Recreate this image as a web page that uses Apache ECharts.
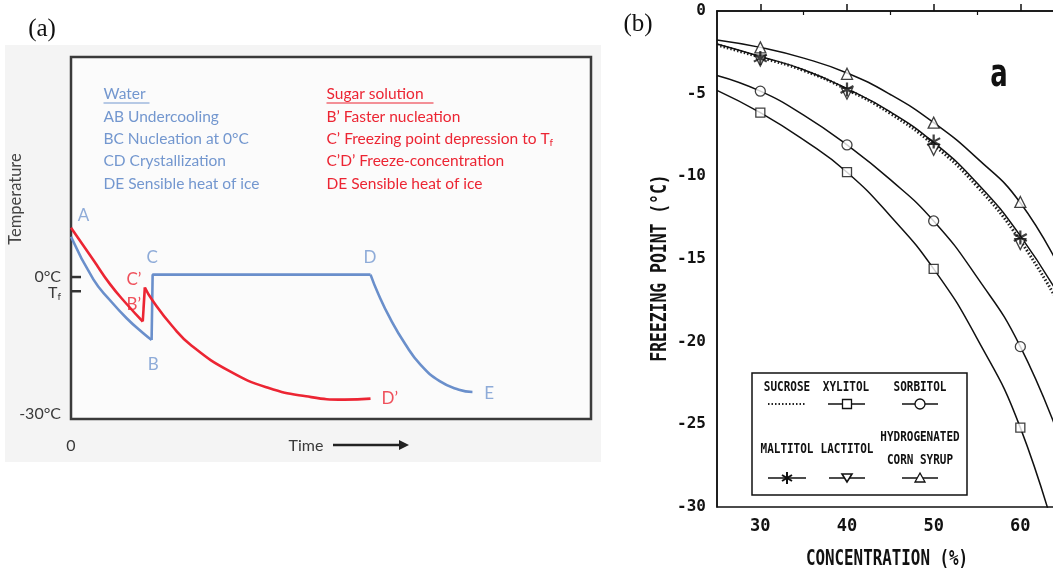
<!DOCTYPE html>
<html>
<head>
<meta charset="utf-8">
<script src="https://cdn.jsdelivr.net/npm/echarts@6/dist/echarts.min.js"></script>
<style>
html, body { margin: 0; padding: 0; background: #fff; }
#chart { width: 1053px; height: 573px; }
</style>
</head>
<body>
<div id="chart"></div>
<script>
// ---------- panel (a): cooling curves (time in arbitrary units, temperature in degC)
var waterCooling = [[0, 8.5], [4.3, -0.5], [7.5, -4.9], [10.7, -8.7], [13.9, -11.9], [15.5, -13.3]];
var waterPlateau = [[15.5, -13.3], [15.7, 0.5], [57.6, 0.5]];
var waterIce = [[57.6, 0.5], [59.1, -3.6], [61.3, -8.6], [64.3, -14.2], [67.2, -18.5], [70.9, -22.0], [74.6, -23.8], [77.2, -24.3]];
var sugarCooling = [[0, 10.4], [4.3, 3.6], [7.5, -1.5], [10.7, -5.7], [13.8, -9.4]];
var sugarNucleation = [[13.8, -9.4], [14.2, -2.2]];
var sugarFreeze = [[14.2, -2.2], [15.65, -4.9], [19.5, -10.4], [23.2, -14.5], [30.5, -19.9], [37.9, -23.4], [45.2, -25.2], [52.6, -25.9], [57.6, -25.7]];

var waterMarks = [['A', 2.4, 13.0], ['B', 15.8, -18.5], ['C', 15.6, 4.2], ['D', 57.5, 4.2], ['E', 80.4, -24.7]];
var sugarMarks = [['C\u2019', 12.1, -0.6], ['B\u2019', 12.1, -5.9], ['D\u2019', 61.3, -25.6]];

var tempTicks = [0, -3];
var tempLabelValues = [0, -3, -30];
var tempLabels = ['0°C', 'T{s|f}', '-30°C'];
var timeLabelValues = [0];

var waterNotes = ['Water', 'AB Undercooling', 'BC Nucleation at 0°C', 'CD Crystallization', 'DE Sensible heat of ice'];
var sugarNotes = ['Sugar solution', 'B\u2019 Faster nucleation', 'C\u2019 Freezing point depression to T{s|f}', 'C\u2019D\u2019 Freeze-concentration', 'DE Sensible heat of ice'];

// ---------- panel (b): freezing point vs concentration
var concTicks = [30, 40, 50, 60];
var concMinorTicks = [35, 45, 55];
var measuredConc = [30, 40, 50, 60];
var xylitolPts = [-6.15, -9.75, -15.6, -25.2];
var sorbitolPts = [-4.85, -8.1, -12.7, -20.3];
var maltitolPts = [-2.85, -4.75, -7.9, -13.7];
var lactitolPts = [-3.0, -5.0, -8.4, -14.1];
var hcsPts = [-2.2, -3.8, -6.75, -11.55];

var fitConc = [25, 30, 35, 40, 45, 50, 55, 60, 65];
var sucroseFit = [-2.05, -2.8, -3.6, -4.75, -6.2, -8.1, -10.6, -13.9, -18.2];
var maltitolFit = [-2.0, -2.75, -3.55, -4.7, -6.1, -7.95, -10.4, -13.6, -17.7];
var hcsFit = [-1.75, -2.2, -2.85, -3.75, -5.05, -6.75, -8.9, -11.6, -16.0];
var sorbitolFit = [-3.9, -4.85, -6.3, -8.1, -10.2, -12.7, -16.1, -20.3, -26.5];
var xylitolFit = [-4.8, -6.15, -7.8, -9.75, -12.4, -15.6, -19.8, -25.2, -33.5];

var BLUE = '#6a8fcb';
var RED = '#ec2533';
var FONT_A = 'Lato, "Open Sans", sans-serif';
var FONT_B = '"DejaVu Sans Mono", monospace';
var STAR = 'path://M-1.5,-10L-1.5,10L1.5,10L1.5,-10Z M7.91,6.3L9.41,3.7L-7.91,-6.3L-9.41,-3.7Z M9.41,-3.7L7.91,-6.3L-9.41,3.7L-7.91,6.3Z';

function zip(xs, ys) {
    return xs.map(function (x, i) { return [x, ys[i]]; });
}

var chart = echarts.init(document.getElementById('chart'));

function curveA(data, color) {
    return {
        type: 'line', xAxisIndex: 0, yAxisIndex: 0, data: data,
        smooth: data.length > 3 ? 0.5 : false, symbol: 'none',
        lineStyle: { color: color, width: 2.6 }, z: 3
    };
}
function marksA(list, color) {
    return {
        type: 'scatter', xAxisIndex: 0, yAxisIndex: 0, symbolSize: 1,
        itemStyle: { color: 'rgba(0,0,0,0)' }, z: 4,
        data: list.map(function (m) { return { name: m[0], value: [m[1], m[2]] }; }),
        label: { show: true, position: 'inside', formatter: '{b}', color: color, fontSize: 17, fontFamily: FONT_A }
    };
}
function curveB(ys, dotted) {
    return {
        type: 'line', xAxisIndex: 1, yAxisIndex: 1, data: zip(fitConc, ys),
        smooth: true, symbol: 'none', clip: true,
        lineStyle: dotted ? { color: '#222', width: 3, type: [1.5, 2] } : { color: '#111', width: 1.5 }
    };
}
function pointsB(ys, symbol, size, rotate, filled) {
    return {
        type: 'scatter', xAxisIndex: 1, yAxisIndex: 1, data: zip(measuredConc, ys),
        symbol: symbol, symbolSize: size, symbolRotate: rotate || 0, z: 5,
        itemStyle: filled ? { color: '#111' } : { color: '#fff', borderColor: '#111', borderWidth: 1.3 }
    };
}

var graphics = [];
// panel (a) light background and labels
graphics.push({ type: 'rect', z: -10, shape: { x: 5, y: 45, width: 596, height: 417 }, style: { fill: '#f4f4f4' } });
graphics.push({ type: 'rect', z: -9, shape: { x: 71, y: 57, width: 520, height: 362 }, style: { fill: '#fbfbfb' } });
graphics.push({ type: 'text', x: 42, y: 29, style: { text: '(a)', fill: '#111', font: '25px "Liberation Serif", serif', align: 'center', verticalAlign: 'middle' } });
graphics.push({ type: 'text', x: 638, y: 24, style: { text: '(b)', fill: '#111', font: '25px "Liberation Serif", serif', align: 'center', verticalAlign: 'middle' } });
graphics.push({ type: 'text', x: 16, y: 199, rotation: Math.PI / 2, style: { text: 'Temperature', fill: '#444', font: '16.5px ' + FONT_A, align: 'center', verticalAlign: 'middle' } });
var noteY = [94, 116.5, 138.5, 161, 183.5];
waterNotes.forEach(function (t, i) {
    graphics.push({ type: 'text', x: 103.5, y: noteY[i], style: { text: t, fill: '#7397cf', font: '15.5px ' + FONT_A, verticalAlign: 'middle' } });
});
sugarNotes.forEach(function (t, i) {
    graphics.push({ type: 'text', x: 326.5, y: noteY[i], style: { text: t, fill: RED, font: '15.5px ' + FONT_A, verticalAlign: 'middle',
        rich: { s: { fontSize: 10, fontFamily: FONT_A, fill: RED, padding: [8, 0, 0, 0] } } } });
});
graphics.push({ type: 'line', shape: { x1: 103.5, y1: 103, x2: 149.5, y2: 103 }, style: { stroke: '#7397cf', lineWidth: 1.2 } });
graphics.push({ type: 'line', shape: { x1: 326.5, y1: 103, x2: 433.5, y2: 103 }, style: { stroke: RED, lineWidth: 1.2 } });
graphics.push({ type: 'text', x: 306, y: 446, style: { text: 'Time', fill: '#3a3a3a', font: '16px ' + FONT_A, align: 'center', verticalAlign: 'middle' } });
graphics.push({ type: 'line', shape: { x1: 333, y1: 445, x2: 402, y2: 445 }, style: { stroke: '#222', lineWidth: 2.5 } });
graphics.push({ type: 'polygon', shape: { points: [[399, 440], [409, 445], [399, 450]] }, style: { fill: '#222' } });
// panel (b) axis names, "a" tag and legend box
graphics.push({ type: 'text', x: 661, y: 268, rotation: Math.PI / 2, scaleX: 0.78, style: { text: 'FREEZING POINT (°C)', fill: '#111', font: 'bold 21px ' + FONT_B, align: 'center', verticalAlign: 'middle' } });
graphics.push({ type: 'text', x: 887, y: 559, scaleX: 0.72, style: { text: 'CONCENTRATION (%)', fill: '#111', font: 'bold 22px ' + FONT_B, align: 'center', verticalAlign: 'middle' } });
graphics.push({ type: 'text', x: 999, y: 76, scaleX: 0.8, scaleY: 1.1, style: { text: 'a', fill: '#111', font: 'bold 36px "Liberation Sans Narrow", "DejaVu Sans Condensed", sans-serif', align: 'center', verticalAlign: 'middle' } });
graphics.push({ type: 'rect', z: 20, shape: { x: 752, y: 373, width: 215, height: 122 }, style: { fill: '#fff', stroke: '#111', lineWidth: 1.5 } });
var legendText = [['SUCROSE', 787, 387], ['XYLITOL', 846, 387], ['SORBITOL', 920, 387],
                  ['MALTITOL', 787, 449], ['LACTITOL', 847, 449], ['HYDROGENATED', 920, 437], ['CORN SYRUP', 920, 460]];
legendText.forEach(function (t) {
    graphics.push({ type: 'text', z: 21, x: t[1], y: t[2], scaleY: 1.3, style: { text: t[0], fill: '#111', font: 'bold 11px ' + FONT_B, align: 'center', verticalAlign: 'middle' } });
});
graphics.push({ type: 'line', z: 21, shape: { x1: 768, y1: 404, x2: 806, y2: 404 }, style: { stroke: '#222', lineWidth: 2, lineDash: [1.5, 2] } });
[[828, 865, 404], [902, 938, 404], [768, 806, 478], [829, 865, 478], [902, 938, 478]].forEach(function (s) {
    graphics.push({ type: 'line', z: 21, shape: { x1: s[0], y1: s[2], x2: s[1], y2: s[2] }, style: { stroke: '#111', lineWidth: 1.5 } });
});
graphics.push({ type: 'rect', z: 22, shape: { x: 842.5, y: 399.5, width: 9, height: 9 }, style: { fill: '#fff', stroke: '#111', lineWidth: 1.3 } });
graphics.push({ type: 'circle', z: 22, shape: { cx: 920, cy: 404, r: 5 }, style: { fill: '#fff', stroke: '#111', lineWidth: 1.3 } });
graphics.push({ type: 'polygon', z: 22, shape: { points: [[842, 474], [852, 474], [847, 482]] }, style: { fill: '#fff', stroke: '#111', lineWidth: 1.6 } });
graphics.push({ type: 'polygon', z: 22, shape: { points: [[920, 473], [925, 482], [915, 482]] }, style: { fill: '#fff', stroke: '#111', lineWidth: 1.3 } });
[[787, 472, 787, 484], [782, 475, 792, 481], [782, 481, 792, 475]].forEach(function (s) {
    graphics.push({ type: 'line', z: 22, shape: { x1: s[0], y1: s[1], x2: s[2], y2: s[3] }, style: { stroke: '#111', lineWidth: 2 } });
});

var option = {
    backgroundColor: '#fff',
    animation: false,
    grid: [
        { left: 71, top: 57, width: 520, height: 362, show: true, borderColor: '#3a3a3a', borderWidth: 2.5, backgroundColor: 'transparent', outerBoundsMode: 'none', containLabel: false },
        { left: 717, top: 11, width: 390, height: 496, show: true, borderColor: '#111', borderWidth: 1.5, backgroundColor: 'transparent', outerBoundsMode: 'none', containLabel: false }
    ],
    xAxis: [
        { type: 'value', gridIndex: 0, min: 0, max: 100, axisLine: { show: false }, axisTick: { show: false }, splitLine: { show: false },
          axisLabel: { customValues: timeLabelValues, margin: 19, color: '#3a3a3a', fontSize: 16, fontFamily: FONT_A } },
        { type: 'value', gridIndex: 1, min: 25, max: 70, splitLine: { show: false },
          axisLine: { lineStyle: { color: '#111', width: 1.5 } },
          axisTick: { customValues: concTicks, inside: true, length: 7, lineStyle: { color: '#111', width: 1.5 } },
          axisLabel: { customValues: concTicks, margin: 11, color: '#111', fontSize: 17, fontWeight: 'bold', fontFamily: FONT_B } },
        { type: 'value', gridIndex: 1, min: 25, max: 70, splitLine: { show: false }, axisLine: { show: false },
          axisTick: { customValues: concMinorTicks, inside: true, length: 4, lineStyle: { color: '#111', width: 1.2 } },
          axisLabel: { show: false } }
    ],
    yAxis: [
        { type: 'value', gridIndex: 0, min: -30, max: 46.5, splitLine: { show: false },
          axisLine: { show: false }, axisTick: { show: false }, axisLabel: { show: false } },
        { type: 'value', gridIndex: 1, min: -30, max: 0, interval: 5, splitLine: { show: false },
          axisLine: { lineStyle: { color: '#111', width: 1.5 } }, axisTick: { show: false },
          axisLabel: { margin: 11, color: '#111', fontSize: 16, fontWeight: 'bold', fontFamily: FONT_B } }
    ],
    graphic: graphics,
    series: [
        curveA(waterCooling, BLUE), curveA(waterPlateau, BLUE), curveA(waterIce, BLUE),
        curveA(sugarCooling, RED), curveA(sugarNucleation, RED), curveA(sugarFreeze, RED),
        marksA(waterMarks, '#7397cf'), marksA(sugarMarks, RED),
        curveB(sucroseFit, true), curveB(maltitolFit, false), curveB(hcsFit, false),
        curveB(sorbitolFit, false), curveB(xylitolFit, false),
        pointsB(xylitolPts, 'rect', 9), pointsB(sorbitolPts, 'circle', 10),
        pointsB(hcsPts, 'triangle', 11), pointsB(lactitolPts, 'triangle', 11, 180),
        pointsB(maltitolPts, STAR, 14, 0, true)
    ]
};
chart.setOption(option);

// temperature ticks and labels of panel (a), placed through the axis scale
var axisX = chart.convertToPixel({ xAxisIndex: 0 }, 0);
tempTicks.forEach(function (v) {
    var py = chart.convertToPixel({ yAxisIndex: 0 }, v);
    graphics.push({ type: 'line', z: 5, shape: { x1: axisX, y1: py, x2: axisX + 10, y2: py }, style: { stroke: '#333', lineWidth: 2.5 } });
});
tempLabelValues.forEach(function (v, i) {
    var py = chart.convertToPixel({ yAxisIndex: 0 }, v);
    if (v === -30) { py -= 5; }
    graphics.push({ type: 'text', x: axisX - 10, y: py + (v === -3 ? 2 : 0), style: { text: tempLabels[i], fill: '#3a3a3a', font: '16px ' + FONT_A,
        align: 'right', verticalAlign: 'middle', rich: { s: { fontSize: 10, fontFamily: FONT_A, fill: '#3a3a3a', padding: [8, 0, 0, 0] } } } });
});
chart.setOption({ graphic: graphics });
</script>
</body>
</html>
